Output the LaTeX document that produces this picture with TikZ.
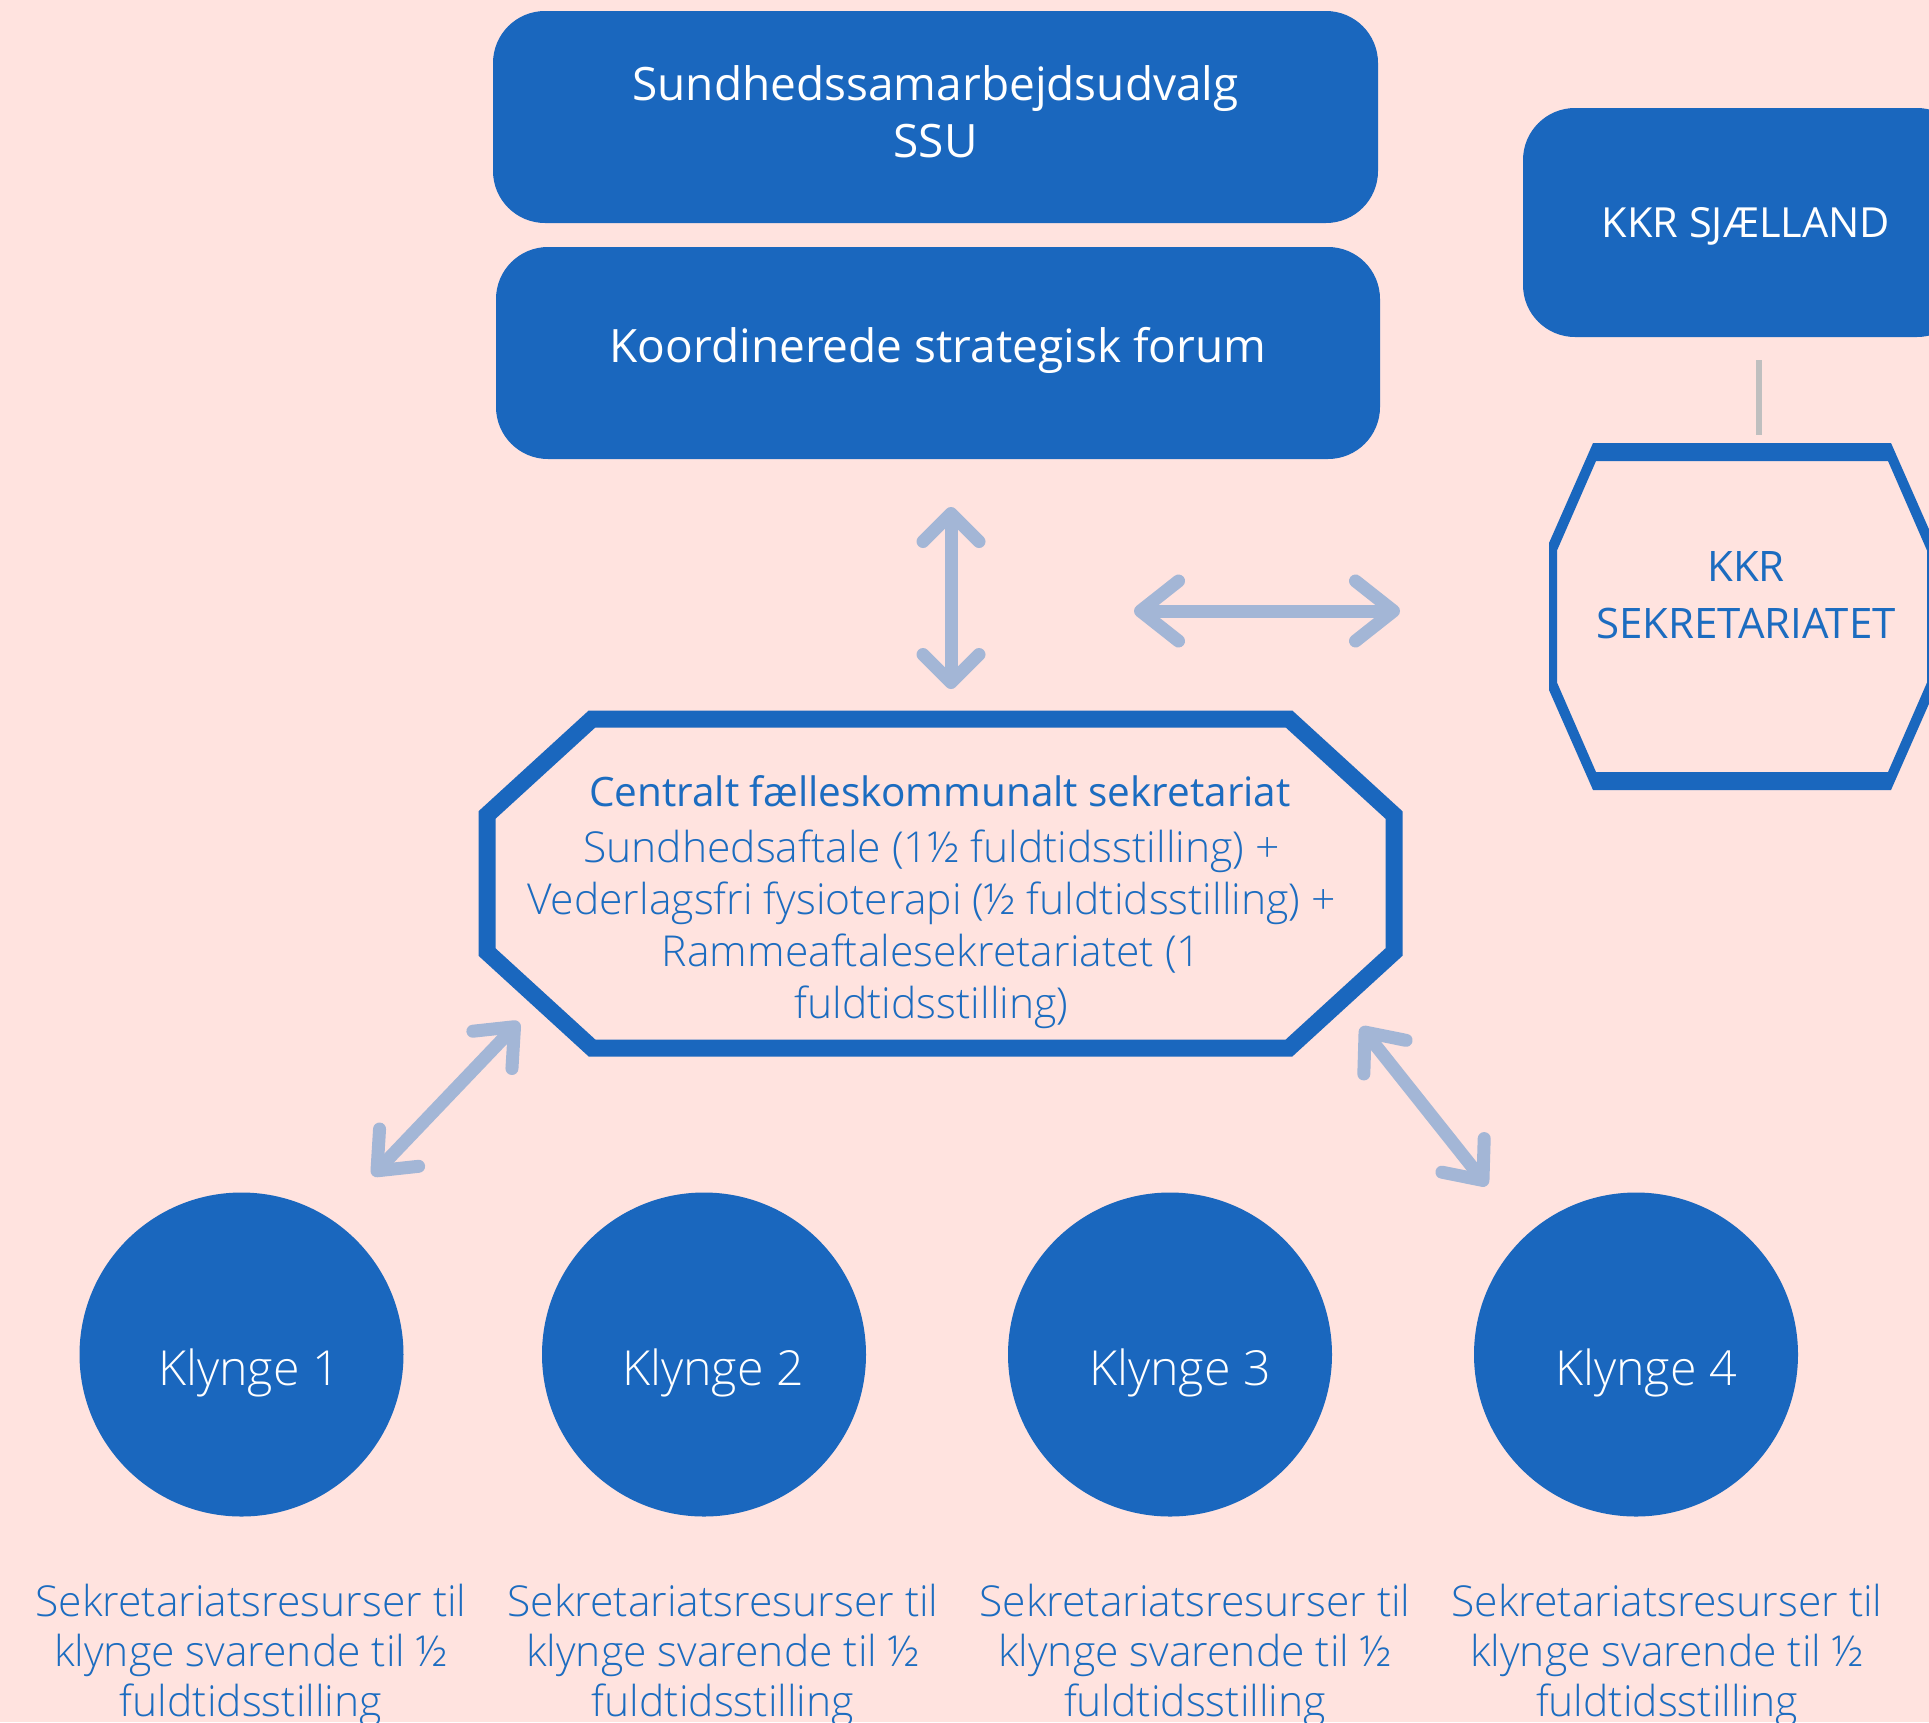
\documentclass[tikz,border=0pt]{standalone}
\usepackage{fontspec}
\setmainfont{Open Sans}
\IfFontExistsTF{Open Sans Light}{\newfontfamily\lightfont{Open Sans Light}}{\newfontfamily\lightfont{Open Sans}}
\usetikzlibrary{arrows.meta}
\definecolor{bg}{HTML}{FFE3DF}
\definecolor{navy}{HTML}{1A67BE}
\definecolor{txtblue}{HTML}{1C6CC0}
\definecolor{arr}{HTML}{A3B6D6}
\definecolor{grayline}{HTML}{BFBFBF}
\newcommand{\padr}{\rule{17pt}{0pt}}
\begin{document}
\begin{tikzpicture}[x=1pt,y=-1pt,
  bluebox/.style={fill=navy, draw=none, rounded corners=52pt, text=white, align=center, inner sep=0pt, outer sep=0pt},
  frame/.style={draw=none, inner sep=0pt, outer sep=0pt},
  octo/.style={draw=navy, line width=17pt, line join=miter},
  dbl/.style={draw=arr, line width=13pt, line cap=round},
  vtip/.style={{Straight Barb[length=28pt,width=56pt,round]}-{Straight Barb[length=28pt,width=56pt,round]}},
  htip/.style={{Straight Barb[length=38pt,width=60pt,round]}-{Straight Barb[length=38pt,width=60pt,round]}},
  dtip/.style={{Straight Barb[length=32pt,width=54pt,round]}-{Straight Barb[length=32pt,width=54pt,round]}},
  klynge/.style={circle, fill=navy, draw=none, minimum size=324pt, inner sep=0pt, outer sep=0pt},
  ktext/.style={text=white, font=\lightfont\fontsize{48.3}{56}\selectfont},
  bottomtext/.style={text=txtblue, align=center, font=\lightfont\fontsize{42.6}{50}\selectfont}
]
\useasboundingbox (0,0) rectangle (1929,1722);
\fill[bg] (0,0) rectangle (1929,1722);

% top boxes
\node[bluebox, minimum width=885pt, minimum height=212pt] (ssu) at (935.5,117) {};
\node[text=white, align=center, font=\fontsize{46}{57}\selectfont] (ssutext) at (935.5,112) {Sundhedssamarbejdsudvalg\\SSU};
\node[bluebox, minimum width=884pt, minimum height=212pt] (ksf) at (938,353) {};
\node[text=white, font=\fontsize{46}{57}\selectfont] (ksftext) at (938,350.5) {Koordinerede strategisk forum};
\node[bluebox, minimum width=446pt, minimum height=229pt] (kkr) at (1746,222.5) {};
\node[text=white, font=\fontsize{41.5}{57}\selectfont] (kkrtext) at (1746,226) {KKR SJÆLLAND};

% KKR sekretariatet octagon (thin vertical sides, thick horizontal sides)
\node[frame, minimum width=386pt, minimum height=347pt] (kkrsek) at (1742,616.5) {};
\begin{scope}[shift={(kkrsek.center)}]
\fill[navy, even odd rule]
  (-149,-173.5) -- (149,-173.5) -- (193,-73.5) -- (193,73.5) -- (149,173.5) -- (-149,173.5) -- (-193,73.5) -- (-193,-73.5) -- cycle
  (-146,-155.5) -- (146,-155.5) -- (185,-66) -- (185,66) -- (146,155.5) -- (-146,155.5) -- (-185,66) -- (-185,-66) -- cycle;
\end{scope}
\node[text=txtblue, align=center, font=\fontsize{42}{57}\selectfont] (kkrsektext) at (1746,595.5) {KKR\\SEKRETARIATET};

% central octagon
\node[frame, minimum width=907pt, minimum height=329pt] (cfs) at (940.5,883.5) {};
\draw[octo] ([xshift=105pt]cfs.north west) -- ([xshift=-105pt]cfs.north east)
  -- ([yshift=-96pt]cfs.north east) -- ([yshift=96pt]cfs.south east)
  -- ([xshift=-105pt]cfs.south east) -- ([xshift=105pt]cfs.south west)
  -- ([yshift=96pt]cfs.south west) -- ([yshift=-96pt]cfs.north west) -- cycle;
\node[text=txtblue, align=center, font=\lightfont\fontsize{42.6}{52}\selectfont] (cfstext) at (940,902)
  {{\normalfont\fontsize{40.5}{52}\selectfont Centralt fælleskommunalt sekretariat}\\[4pt]Sundhedsaftale (1½ fuldtidsstilling) +\padr\\Vederlagsfri fysioterapi (½ fuldtidsstilling) +\padr\\Rammeaftalesekretariatet (1\padr\\fuldtidsstilling)\padr};

% circles
\node[klynge] (k1) at (241.5,1354.5) {};
\node[klynge] (k2) at (704,1354.5) {};
\node[klynge] (k3) at (1170,1354.5) {};
\node[klynge] (k4) at (1636,1354.5) {};
\node[ktext] (k1t) at (249,1373) {Klynge 1};
\node[ktext] (k2t) at (713,1373) {Klynge 2};
\node[ktext] (k3t) at (1180,1373) {Klynge 3};
\node[ktext] (k4t) at (1646,1373) {Klynge 4};

% bottom texts
\node[bottomtext] (b1) at (251,1655) {Sekretariatsresurser til\\klynge svarende til ½\\fuldtidsstilling};
\node[bottomtext] (b2) at (723,1655) {Sekretariatsresurser til\\klynge svarende til ½\\fuldtidsstilling};
\node[bottomtext] (b3) at (1195,1655) {Sekretariatsresurser til\\klynge svarende til ½\\fuldtidsstilling};
\node[bottomtext] (b4) at (1667,1655) {Sekretariatsresurser til\\klynge svarende til ½\\fuldtidsstilling};

% connectors
\draw[grayline, line width=6pt] ([xshift=13pt,yshift=-23pt]kkr.south) -- ([xshift=17pt,yshift=8pt]kkrsek.north);
\draw[dbl, vtip] ([xshift=13pt,yshift=-48pt]ksf.south) -- ([xshift=10.5pt,yshift=30pt]cfs.north);
\coordinate (h1) at (1134,611);
\coordinate (h2) at (1400,611);
\draw[dbl, htip] (h1) -- (h2);
\draw[dbl, dtip] ([xshift=131pt,yshift=17pt]k1.north) -- ([xshift=32pt,yshift=26pt]cfs.south west);
\draw[dbl, dtip] ([xshift=-33pt,yshift=21pt]cfs.south east) -- ([xshift=-149pt,yshift=7pt]k4.north);
\end{tikzpicture}
\end{document}
